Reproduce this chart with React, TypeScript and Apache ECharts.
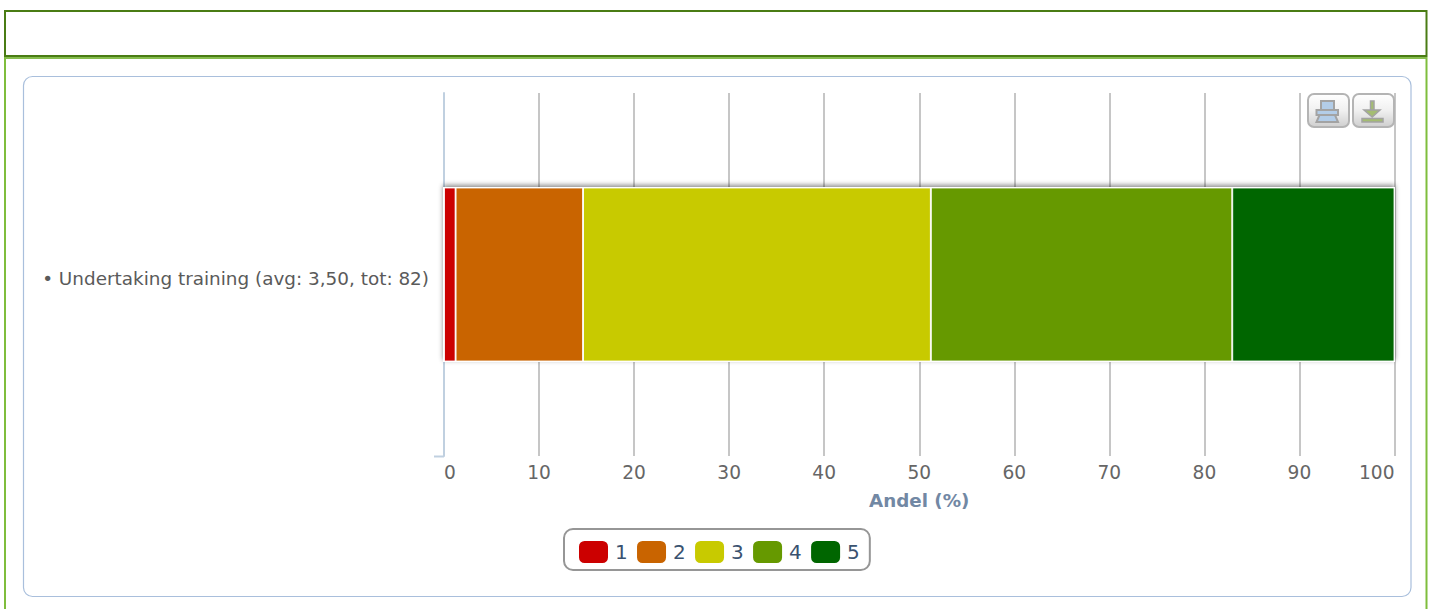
import React, { useEffect, useRef } from "react";
import * as echarts from "echarts";

const categories = ["• Undertaking training (avg: 3,50, tot: 82)"];
const seriesNames = ["1", "2", "3", "4", "5"];
const seriesColors = ["#cc0000", "#c96400", "#c8ca00", "#669900", "#006600"];
const sharePercent = [1.22, 13.41, 36.59, 31.71, 17.07];
const axisName = "Andel (%)";

const FONT = "'DejaVu Sans', sans-serif";
const ICON_STROKE = "#a3a3a3";

// Rounded toolbar button with a vertical sheen.
const toolbarButton = (x: number) => ({
  type: "rect",
  z: 20,
  shape: { x, y: 94, width: 41, height: 33, r: 6 },
  style: {
    stroke: "#b4b4b4",
    lineWidth: 2,
    fill: new echarts.graphic.LinearGradient(0, 0, 0, 1, [
      { offset: 0, color: "#ffffff" },
      { offset: 0.5, color: "#f0f0f0" },
      { offset: 1, color: "#cfcfcf" },
    ]),
  },
});

const frameAndToolbar = [
  // Page frame: light green sides under a dark green header box.
  { type: "line", shape: { x1: 5, y1: 57, x2: 5, y2: 609 }, style: { stroke: "#7fbd3c", lineWidth: 2 } },
  { type: "line", shape: { x1: 1426.5, y1: 57, x2: 1426.5, y2: 609 }, style: { stroke: "#7fbd3c", lineWidth: 2 } },
  { type: "line", shape: { x1: 5, y1: 58, x2: 1427, y2: 58 }, style: { stroke: "#86bd4e", lineWidth: 2 } },
  { type: "rect", shape: { x: 5, y: 11, width: 1421.5, height: 45 }, style: { fill: "#fff", stroke: "#4a7c14", lineWidth: 2 } },
  // Chart panel outline.
  { type: "rect", z: -1, shape: { x: 23.5, y: 76.5, width: 1387.5, height: 520, r: 9 }, style: { fill: "#fff", stroke: "#a9bfdc", lineWidth: 1.2 } },
  // Soft halo under the stacked bar; sits above the grid lines, below the series.
  {
    type: "rect",
    z: 1,
    shape: { x: 443, y: 187, width: 952, height: 175 },
    style: { fill: "#ffffff", shadowColor: "rgba(0,0,0,0.45)", shadowBlur: 5, shadowOffsetY: -2 },
  },
  // Tick closing the category band at the foot of the axis.
  { type: "line", z: 5, shape: { x1: 434, y1: 456.5, x2: 444, y2: 456.5 }, style: { stroke: "#c0d0e0", lineWidth: 2 } },
  // Print button.
  toolbarButton(1308),
  { type: "rect", z: 21, shape: { x: 1321, y: 101, width: 13, height: 9 }, style: { fill: "#b3cde8", stroke: ICON_STROKE, lineWidth: 2 } },
  { type: "polygon", z: 21, shape: { points: [[1319.5, 115], [1335, 115], [1338, 122], [1316.5, 122]] }, style: { fill: "#b3cde8", stroke: ICON_STROKE, lineWidth: 2 } },
  { type: "rect", z: 22, shape: { x: 1316.5, y: 110, width: 21.5, height: 5 }, style: { fill: "#b3cde8", stroke: ICON_STROKE, lineWidth: 2 } },
  // Download button.
  toolbarButton(1353),
  { type: "rect", z: 21, shape: { x: 1370.5, y: 101, width: 3.5, height: 9 }, style: { fill: "#a4bd72", stroke: ICON_STROKE, lineWidth: 1.5 } },
  { type: "polygon", z: 21, shape: { points: [[1364, 110], [1380, 110], [1372.2, 117]] }, style: { fill: "#a4bd72", stroke: ICON_STROKE, lineWidth: 1.5 } },
  { type: "rect", z: 21, shape: { x: 1362, y: 118.5, width: 21, height: 3.5 }, style: { fill: "#a4bd72", stroke: ICON_STROKE, lineWidth: 1.5 } },
];

export default function App() {
  const ref = useRef<HTMLDivElement>(null);

  useEffect(() => {
    const chart = echarts.init(ref.current!, undefined, { renderer: "svg" });
    chart.setOption({
      animation: false,
      backgroundColor: "#ffffff",
      textStyle: { fontFamily: FONT },
      grid: { left: 444, top: 93, width: 950.5, height: 363, containLabel: false },
      graphic: frameAndToolbar,
      legend: {
        left: 564,
        top: 529,
        orient: "horizontal",
        data: seriesNames,
        icon: "roundRect",
        itemWidth: 29,
        itemHeight: 22,
        itemGap: 9.3,
        padding: [12, 10, 7, 15],
        borderColor: "#969696",
        borderWidth: 2,
        borderRadius: 9,
        backgroundColor: "#ffffff",
        selectedMode: false,
        itemStyle: { borderWidth: 0 },
        textStyle: { color: "#3a5270", fontSize: 20, fontFamily: FONT, padding: [0, 0, 0, 2] },
      },
      xAxis: {
        type: "value",
        min: 0,
        max: 100,
        interval: 10,
        name: axisName,
        nameLocation: "middle",
        nameGap: 35,
        nameTextStyle: { color: "#7288a4", fontSize: 18.3, fontWeight: "bold", fontFamily: FONT },
        axisLine: { show: false },
        axisTick: { show: false },
        axisLabel: {
          color: "#666666",
          fontSize: 18.6,
          fontFamily: FONT,
          margin: 7,
          alignMinLabel: "left",
          alignMaxLabel: "right",
        },
        splitLine: { show: true, lineStyle: { color: "#c6c6c6", width: 2 } },
      },
      yAxis: {
        type: "category",
        data: categories,
        axisLine: { show: true, lineStyle: { color: "#c0d0e0", width: 2 } },
        axisTick: { show: false },
        splitLine: { show: false },
        axisLabel: {
          color: "#5a5a5a",
          fontSize: 18.4,
          fontFamily: FONT,
          margin: 15,
          verticalAlign: "top",
          lineHeight: 7,
        },
      },
      series: seriesNames.map((name, i) => ({
        name,
        type: "bar",
        stack: "share",
        barWidth: 174,
        data: [sharePercent[i]],
        itemStyle: {
          color: seriesColors[i],
          borderColor: "#ffffff",
          borderWidth: 0.9,
        },
      })),
    });
    return () => chart.dispose();
  }, []);

  return (
    <div
      ref={ref}
      style={{ position: "absolute", left: 0, top: 0, width: 1434, height: 609 }}
    />
  );
}
